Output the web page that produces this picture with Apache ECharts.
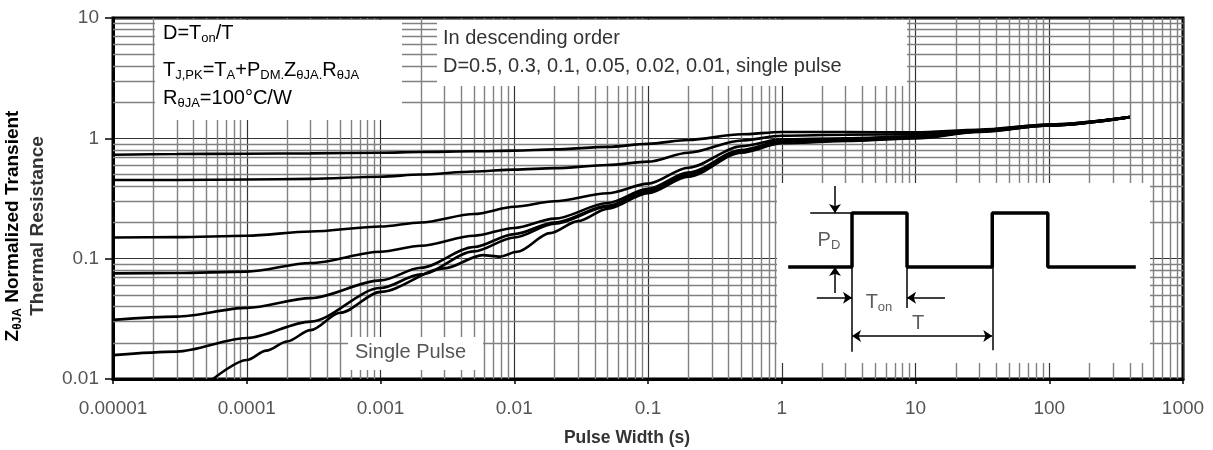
<!DOCTYPE html>
<html><head><meta charset="utf-8">
<script src="https://cdn.jsdelivr.net/npm/echarts@6/dist/echarts.min.js"></script>
<style>html,body{margin:0;padding:0;background:#fff}#c{width:1213px;height:450px}</style>
</head><body><div id="c"></div>
<script>
// ---- axis ticks ----
const xTickValues = [0.00001, 0.0001, 0.001, 0.01, 0.1, 1, 10, 100, 1000];
const xTickLabels = ['0.00001','0.0001','0.001','0.01','0.1','1','10','100','1000'];
const yTickValues = [0.01, 0.1, 1, 10];
const yTickLabels = ['0.01','0.1','1','10'];

// ---- curves (pulse width s -> normalized Z) ----
const pulseWidth = [1e-5, 3e-5, 1e-4, 3e-4, 1e-3, 2e-3, 5e-3, 1e-2, 2e-2, 5e-2, 0.1, 0.2, 0.5, 1, 3, 10, 30, 100, 400];
const zD05  = [0.73, 0.74, 0.745, 0.75, 0.76, 0.77, 0.78, 0.79, 0.81, 0.85, 0.90, 0.97, 1.08, 1.13, 1.13, 1.12, 1.18, 1.30, 1.50];
const zD03  = [0.45, 0.45, 0.455, 0.46, 0.48, 0.50, 0.53, 0.55, 0.565, 0.60, 0.64, 0.76, 0.96, 1.05, 1.07, 1.08, 1.17, 1.30, 1.50];
const zD01  = [0.15, 0.151, 0.155, 0.168, 0.185, 0.20, 0.235, 0.27, 0.30, 0.35, 0.42, 0.57, 0.86, 0.98, 1.00, 1.04, 1.15, 1.29, 1.50];
const zD005 = [0.0755, 0.076, 0.078, 0.092, 0.114, 0.128, 0.155, 0.18, 0.215, 0.29, 0.38, 0.52, 0.80, 0.95, 0.97, 1.03, 1.15, 1.29, 1.50];
const zD002 = [0.031, 0.033, 0.039, 0.047, 0.066, 0.084, 0.125, 0.16, 0.20, 0.275, 0.37, 0.50, 0.78, 0.93, 0.96, 1.02, 1.14, 1.28, 1.50];
const zD001 = [0.0158, 0.0169, 0.0219, 0.030, 0.057, 0.074, 0.115, 0.15, 0.195, 0.27, 0.36, 0.49, 0.77, 0.92, 0.955, 1.01, 1.14, 1.28, 1.50];
const singlePulseWidth = [5.6e-5, 1e-4, 1.4e-4, 2e-4, 3e-4, 5e-4, 1e-3, 3e-3, 5.8e-3, 7.8e-3, 1.05e-2, 1.85e-2, 3e-2, 5e-2, 0.1, 0.2, 0.5, 1, 3, 10, 30, 100, 400];
const zSingle = [0.01, 0.0144, 0.0172, 0.0205, 0.0255, 0.0355, 0.053, 0.083, 0.107, 0.104, 0.114, 0.163, 0.205, 0.26, 0.35, 0.48, 0.76, 0.91, 0.95, 1.0, 1.13, 1.28, 1.50];
const curveNames = ['D=0.5','D=0.3','D=0.1','D=0.05','D=0.02','D=0.01'];
const curveValues = [zD05, zD03, zD01, zD005, zD002, zD001];

// ---- inset pulse diagram (time in units of Ton, level in units of PD) ----
const insetTime  = [-1.16, 0, 0, 1, 1, 2.55, 2.55, 3.56, 3.56, 5.16];
const insetLevel = [0, 0, 1, 1, 0, 0, 1, 1, 0, 0];
const insetGuides = [[[-0.76,1],[0,1]], [[0,0],[0,-1.57]], [[1,0],[1,-0.76]], [[2.55,0],[2.55,-1.54]]];
const insetArrows = [[[-0.31,1.5],[-0.31,1.0]], [[-0.31,-0.48],[-0.31,0]], [[-0.64,-0.57],[0,-0.57]], [[1.69,-0.57],[1.0,-0.57]]];
const insetDoubleArrow = [[[0,-1.28],[2.55,-1.28]]];

const FONT = '"Liberation Sans", Arial, sans-serif';
const chart = echarts.init(document.getElementById('c'));

const xMin = xTickValues[0], xMax = xTickValues[xTickValues.length - 1];
const yMin = yTickValues[0], yMax = yTickValues[yTickValues.length - 1];
const minorX = [];
for (let i = 0; i < xTickValues.length - 1; i++) for (let m = 2; m <= 9; m++) minorX.push(xTickValues[i] * m);
const minorY = [];
for (let i = 0; i < yTickValues.length - 1; i++) for (let m = 2; m <= 9; m++) minorY.push(yTickValues[i] * m);
const minorGrid = [
  ...minorX.map(v => ({coords: [[v, yMin], [v, yMax]]})),
  ...minorY.map(v => ({coords: [[xMin, v], [xMax, v]]}))
];

function fmt(values, labels) {
  return v => {
    const i = values.findIndex(t => Math.abs(Math.log10(t) - Math.log10(v)) < 1e-6);
    return i >= 0 ? labels[i] : '';
  };
}
const pairs = (xs, ys) => xs.map((x, i) => [x, ys[i]]);

const sub = {fontSize: 13, lineHeight: 13, padding: [10, 0, 0, 0], fontFamily: FONT, color: '#333'};
const main = {fontSize: 20, lineHeight: 23, fontFamily: FONT, color: '#333'};

const curveSeries = curveNames.map((n, k) => ({
  type: 'line', name: n, data: pairs(pulseWidth, curveValues[k]),
  xAxisIndex: 0, yAxisIndex: 0, symbol: 'none', smooth: 0.3, smoothMonotone: 'x',
  lineStyle: {color: '#000', width: 2.6}, z: 10, silent: true
}));
curveSeries.push({
  type: 'line', name: 'single pulse', data: pairs(singlePulseWidth, zSingle),
  xAxisIndex: 0, yAxisIndex: 0, symbol: 'none', smooth: 0.3, smoothMonotone: 'x',
  lineStyle: {color: '#000', width: 2.6}, z: 10, silent: true
});

const option = {
  animation: false,
  backgroundColor: '#fff',
  grid: [
    {left: 113, top: 18, width: 1070, height: 361, show: true, borderColor: '#000', borderWidth: 3, backgroundColor: 'transparent'},
    {left: 777, top: 183, width: 373, height: 180, show: false}
  ],
  xAxis: [
    {type: 'log', gridIndex: 0, logBase: 10, min: xMin, max: xMax, splitNumber: 8,
     axisLine: {show: true, lineStyle: {color: '#000', width: 3}},
     axisTick: {show: true, length: 5, lineStyle: {color: '#000', width: 1.5}},
     axisLabel: {formatter: fmt(xTickValues, xTickLabels), fontSize: 19, color: '#555', margin: 20, fontFamily: FONT},
     splitLine: {show: true, lineStyle: {color: '#333', width: 1.2}}},
    {type: 'value', gridIndex: 1, min: -1.364, max: 5.418, show: false}
  ],
  yAxis: [
    {type: 'log', gridIndex: 0, logBase: 10, min: yMin, max: yMax,
     axisLine: {show: true, lineStyle: {color: '#000', width: 3}},
     axisTick: {show: true, length: 8, lineStyle: {color: '#000', width: 1.5}},
     axisLabel: {formatter: fmt(yTickValues, yTickLabels), fontSize: 19, color: '#555', margin: 14, fontFamily: FONT},
     splitLine: {show: true, lineStyle: {color: '#333', width: 1.2}}},
    {type: 'value', gridIndex: 1, min: -1.778, max: 1.556, show: false}
  ],
  series: [
    {type: 'lines', name: 'minor grid', coordinateSystem: 'cartesian2d', xAxisIndex: 0, yAxisIndex: 0,
     z: 1, silent: true, symbol: 'none',
     lineStyle: {color: '#808080', width: 1.4, opacity: 1, curveness: 0},
     data: minorGrid},
    ...curveSeries,
    {type: 'line', name: 'pulse', xAxisIndex: 1, yAxisIndex: 1, data: pairs(insetTime, insetLevel),
     symbol: 'none', lineStyle: {color: '#000', width: 3.5}, z: 12, silent: true},
    {type: 'lines', coordinateSystem: 'cartesian2d', xAxisIndex: 1, yAxisIndex: 1, z: 12, silent: true,
     symbol: 'none', lineStyle: {color: '#000', width: 1.5, opacity: 1, curveness: 0},
     data: insetGuides.map(c => ({coords: c}))},
    {type: 'lines', coordinateSystem: 'cartesian2d', xAxisIndex: 1, yAxisIndex: 1, z: 12, silent: true,
     symbol: ['none', 'arrow'], symbolSize: 9, lineStyle: {color: '#000', width: 1.5, opacity: 1, curveness: 0},
     data: insetArrows.map(c => ({coords: c}))},
    {type: 'lines', coordinateSystem: 'cartesian2d', xAxisIndex: 1, yAxisIndex: 1, z: 12, silent: true,
     symbol: ['arrow', 'arrow'], symbolSize: 9, lineStyle: {color: '#000', width: 1.5, opacity: 1, curveness: 0},
     data: insetDoubleArrow.map(c => ({coords: c}))},
    {type: 'scatter', xAxisIndex: 1, yAxisIndex: 1, symbolSize: 0, z: 12, silent: true,
     label: {show: true, position: 'inside', rich: {m: main, s: sub}},
     data: [
       {value: [-0.42, 0.5], label: {formatter: '{m|P}{s|D}'}},
       {value: [0.49, -0.65], label: {formatter: '{m|T}{s|on}'}},
       {value: [1.2, -1.04], label: {formatter: '{m|T}'}}
     ]}
  ],
  graphic: [
    {type: 'rect', shape: {x: 155, y: 20, width: 247, height: 100}, style: {fill: '#fff'}, z: 5, silent: true},
    {type: 'rect', shape: {x: 437, y: 20, width: 470, height: 66}, style: {fill: '#fff'}, z: 5, silent: true},
    {type: 'rect', shape: {x: 348, y: 337, width: 135, height: 33}, style: {fill: '#fff'}, z: 5, silent: true},
    {type: 'rect', shape: {x: 777, y: 183, width: 373, height: 180}, style: {fill: '#fff'}, z: 5, silent: true},
    {type: 'text', x: 163, y: 33, z: 20, silent: true,
     style: {text: '{m|D=T}{s|on}{m|/T}', rich: {m: main, s: sub}, verticalAlign: 'middle'}},
    {type: 'text', x: 163, y: 70, z: 20, silent: true,
     style: {text: '{m|T}{s|J,PK}{m|=T}{s|A}{m|+P}{s|DM.}{m|Z}{s|θJA.}{m|R}{s|θJA}', rich: {m: main, s: sub}, verticalAlign: 'middle'}},
    {type: 'text', x: 163, y: 98, z: 20, silent: true,
     style: {text: '{m|R}{s|θJA}{m|=100°C/W}', rich: {m: main, s: sub}, verticalAlign: 'middle'}},
    {type: 'text', x: 443, y: 38, z: 20, silent: true,
     style: {text: 'In descending order', font: '20px ' + FONT, fill: '#333', verticalAlign: 'middle'}},
    {type: 'text', x: 443, y: 66, z: 20, silent: true,
     style: {text: 'D=0.5, 0.3, 0.1, 0.05, 0.02, 0.01, single pulse', font: '20px ' + FONT, fill: '#333', verticalAlign: 'middle'}},
    {type: 'text', x: 355, y: 352, z: 20, silent: true,
     style: {text: 'Single Pulse', font: '20px ' + FONT, fill: '#555', verticalAlign: 'middle'}},
    {type: 'text', x: 627, y: 438, z: 20, silent: true,
     style: {text: 'Pulse Width (s)', font: 'bold 17.5px ' + FONT, fill: '#333', align: 'center', verticalAlign: 'middle'}},
    {type: 'text', x: 13, y: 226, rotation: Math.PI / 2, z: 20, silent: true,
     style: {text: '{m|Z}{s|θJA}{m| Normalized Transient}', align: 'center', verticalAlign: 'middle',
       rich: {m: {fontSize: 19, fontWeight: 'bold', fontFamily: FONT, color: '#333', lineHeight: 22},
              s: {fontSize: 12, fontWeight: 'bold', fontFamily: FONT, color: '#333', lineHeight: 12, padding: [10, 0, 0, 0]}}}},
    {type: 'text', x: 38, y: 226, rotation: Math.PI / 2, z: 20, silent: true,
     style: {text: 'Thermal Resistance', font: 'bold 19px ' + FONT, fill: '#333', align: 'center', verticalAlign: 'middle'}}
  ]
};
chart.setOption(option);
</script>
</body></html>
